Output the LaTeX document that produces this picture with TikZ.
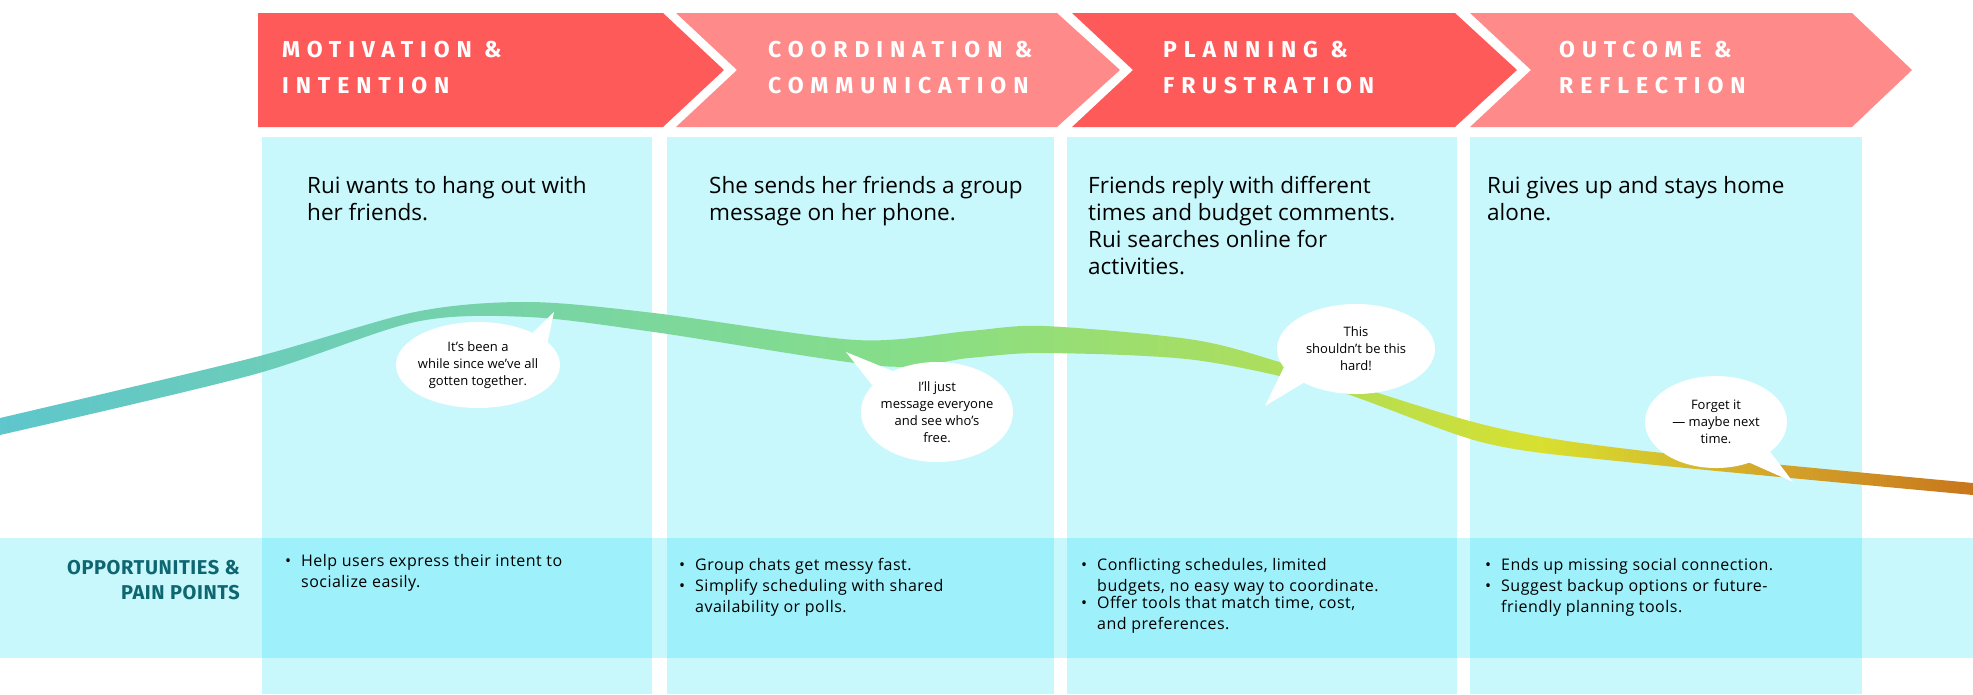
\documentclass[tikz,border=0pt]{standalone}
\usepackage{fontspec}
\setmainfont{Open Sans}
\newfontfamily\headfont[LetterSpace=30]{Fira Sans Bold}
\newfontfamily\oppfont[LetterSpace=3]{Fira Sans Bold}
\newfontfamily\bulfont[LetterSpace=3]{Open Sans}
\usetikzlibrary{shadings}
\definecolor{darkred}{HTML}{FF5A5A}
\definecolor{lightred}{HTML}{FF8A8A}
\definecolor{colbg}{HTML}{C8F8FC}
\definecolor{bandbg}{HTML}{9EF0FA}
\definecolor{teal}{HTML}{0E6670}
\definecolor{cA}{HTML}{5EC6CC}
\definecolor{cB}{HTML}{72D0B0}
\definecolor{cC}{HTML}{86DE88}
\definecolor{cD}{HTML}{B4DE54}
\definecolor{cE}{HTML}{D8E030}
\definecolor{cF}{HTML}{D4A42A}
\definecolor{cG}{HTML}{C8761C}
\pgfdeclarehorizontalshading{journey}{100bp}{color(0bp)=(cA); color(25bp)=(cA); color(35bp)=(cB); color(48bp)=(cC); color(59bp)=(cD); color(64bp)=(cE); color(70bp)=(cF); color(75bp)=(cG); color(100bp)=(cG)}
\tikzset{
  head/.style={text=white, font=\headfont\fontsize{23}{36}\selectfont, align=left, anchor=north west, inner sep=0},
  body/.style={font=\fontsize{22.5}{27}\selectfont, align=left, anchor=north west, inner sep=0},
  bul/.style={font=\bulfont\fontsize{16}{21}\selectfont, align=left, anchor=north west, inner sep=0},
  bub/.style={font=\fontsize{13}{17}\selectfont, align=center, inner sep=0},
  bubshape/.style={fill=white, draw=none}
}
\newcommand{\bl}[1]{\makebox[16pt][l]{\textbullet}\parbox[t]{360pt}{\raggedright #1}}
\begin{document}
\begin{tikzpicture}[x=1pt,y=-1pt]
\useasboundingbox (0,0) rectangle (1973,694);
% band
\fill[colbg] (0,538) rectangle (1973,658);
% columns
\foreach \a/\b in {262/652,667/1054,1067/1457,1470/1862}{
  \fill[colbg] (\a,137) rectangle (\b,694);
  \fill[bandbg] (\a,538) rectangle (\b,658);
}
% chevrons
\fill[darkred] (258,13) -- (663,13) -- (724,70) -- (663,127) -- (258,127) -- cycle;
\fill[lightred] (676,13) -- (1057,13) -- (1120,70) -- (1057,127) -- (676,127) -- (737,70) -- cycle;
\fill[darkred] (1072,13) -- (1455,13) -- (1517,70) -- (1455,127) -- (1072,127) -- (1133,70) -- cycle;
\fill[lightred] (1470,13) -- (1852,13) -- (1912,70) -- (1852,127) -- (1470,127) -- (1531,70) -- cycle;
\node[head] (h1) at (282,41) {MOTIVATION \&\\INTENTION};
\node[head] (h2) at (768,41) {COORDINATION \&\\COMMUNICATION};
\node[head] (h3) at (1163,41) {PLANNING \&\\FRUSTRATION};
\node[head] (h4) at (1559,41) {OUTCOME \&\\REFLECTION};
% body
\node[body] (t1) at (307,176) {Rui wants to hang out with\\her friends.};
\node[body] (t2) at (709,176) {She sends her friends a group\\message on her phone.};
\node[body] (t3) at (1088,176) {Friends reply with different\\times and budget comments.\\Rui searches online for\\activities.};
\node[body] (t4) at (1487,176) {Rui gives up and stays home\\alone.};
% journey line
\path[shading=journey] plot[smooth, tension=0.5] coordinates {(0,418) (252,358) (415,312) (528,302) (654,313) (856,340) (969,331) (1044,326) (1195,340) (1296,367) (1485,425) (1636,450) (1973,483)}
 -- plot[smooth, tension=0.5] coordinates {(1973,495) (1636,463) (1485,443) (1334,390) (1195,360) (1044,353) (969,358) (881,366) (654,332) (528,317) (415,322) (252,375) (0,435)} -- cycle;
% bubbles
\fill[bubshape] (478,365) ellipse [x radius=82, y radius=43];
\fill[bubshape] (520,345) -- (554,312) -- (545,355) -- cycle;
\node[bub] (b1) at (478,365) {It’s been a\\while since we’ve all\\gotten together.};
\fill[bubshape] (937,412) ellipse [x radius=76, y radius=50];
\fill[bubshape] (872,385) -- (846,352) -- (895,372) -- cycle;
\node[bub] (b2) at (937,412) {I’ll just\\message everyone\\and see who’s\\free.};
\fill[bubshape] (1356,349) ellipse [x radius=79, y radius=45];
\fill[bubshape] (1285,365) -- (1265,406) -- (1305,382) -- cycle;
\node[bub] (b3) at (1356,349) {This\\shouldn’t be this\\hard!};
\fill[bubshape] (1716,422) ellipse [x radius=71, y radius=46];
\fill[bubshape] (1765,445) -- (1793,482) -- (1748,462) -- cycle;
\node[bub] (b4) at (1716,422) {Forget it\\— maybe next\\time.};
% opportunities
\node[font=\oppfont\fontsize{20}{25}\selectfont, text=teal, align=right, anchor=north east, inner sep=0] (opp) at (240,560) {OPPORTUNITIES \&\\PAIN POINTS};
\node[bul] (p1) at (285,554) {\bl{Help users express their intent to\\socialize easily.}};
\node[bul] (p2) at (679,558) {\bl{Group chats get messy fast.}\\\bl{Simplify scheduling with shared\\availability or polls.}};
\node[bul] (p3) at (1081,558) {\bl{Conflicting schedules, limited\\budgets, no easy way to coordinate.}\\\bl{Offer tools that match time, cost,\\and preferences.}};
\node[bul] (p4) at (1485,558) {\bl{Ends up missing social connection.}\\\bl{Suggest backup options or future-\\friendly planning tools.}};
\end{tikzpicture}
\end{document}
